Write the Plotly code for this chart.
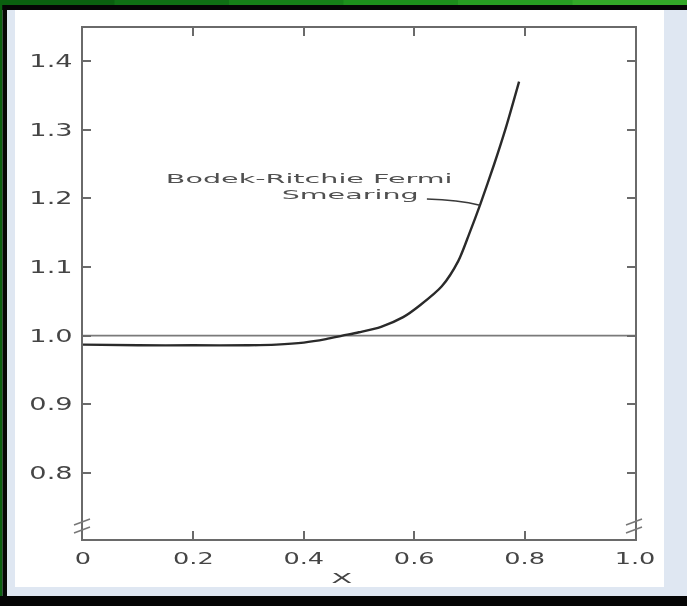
import plotly.graph_objects as go

# Ratio curve read across x
x_vals = [0.0, 0.1, 0.2, 0.3, 0.35, 0.4, 0.44, 0.47, 0.5, 0.54, 0.58, 0.61,
          0.65, 0.68, 0.70, 0.72, 0.745, 0.765, 0.79]
ratio_vals = [0.987, 0.986, 0.986, 0.986, 0.987, 0.990, 0.995, 1.000, 1.005,
              1.013, 1.027, 1.044, 1.072, 1.109, 1.149, 1.192, 1.250, 1.300, 1.370]

# Unit reference line
ref_x = [0.0, 1.0]
ref_y = [1.0, 1.0]

x_ticks = [0.0, 0.2, 0.4, 0.6, 0.8, 1.0]
x_tick_text = ["0", "0.2", "0.4", "0.6", "0.8", "1.0"]
y_ticks = [0.8, 0.9, 1.0, 1.1, 1.2, 1.3, 1.4]
y_tick_text = ["0.8", "0.9", "1.0", "1.1", "1.2", "1.3", "1.4"]

label_line1 = "Bodek-Ritchie Fermi"
label_line2 = "Smearing"
x_title = "X"

W, H = 687, 606
L, R, T, B = 83, 52, 28, 67
PW, PH = W - L - R, H - T - B


def px(xp):
    return (xp - L) / PW


def py(yp):
    return (H - B - yp) / PH


AX = "#6a6a6a"
TXT = "#454545"
FONT = "DejaVu Sans"

fig = go.Figure()
fig.add_trace(go.Scatter(x=ref_x, y=ref_y, mode="lines",
                         line=dict(color="#7a7a7a", width=1.8),
                         hoverinfo="skip", showlegend=False))
fig.add_trace(go.Scatter(x=x_vals, y=ratio_vals, mode="lines",
                         line=dict(color="#2a2a2a", width=2.4, shape="spline",
                                   smoothing=0.8),
                         showlegend=False))

shapes = []
# page frame: light panel, white card, dark edges
shapes.append(dict(type="rect", xref="paper", yref="paper",
                   x0=px(15), x1=px(664), y0=py(587), y1=py(10),
                   fillcolor="white", line=dict(width=0), layer="below"))
greens = ["#0a600f", "#0f7014", "#168018", "#1d8f1c", "#279c22", "#33a828"]
seg = W / len(greens)
for i, g in enumerate(greens):
    shapes.append(dict(type="rect", xref="paper", yref="paper",
                       x0=px(i * seg), x1=px((i + 1) * seg + 1),
                       y0=py(5), y1=py(0), fillcolor=g, line=dict(width=0)))
shapes.append(dict(type="rect", xref="paper", yref="paper",
                   x0=px(0), x1=px(W), y0=py(10), y1=py(5),
                   fillcolor="#050505", line=dict(width=0)))
shapes.append(dict(type="rect", xref="paper", yref="paper",
                   x0=px(0), x1=px(2.5), y0=py(H), y1=py(5),
                   fillcolor="#0a600f", line=dict(width=0)))
shapes.append(dict(type="rect", xref="paper", yref="paper",
                   x0=px(2.5), x1=px(7), y0=py(H), y1=py(5),
                   fillcolor="#050505", line=dict(width=0)))
shapes.append(dict(type="rect", xref="paper", yref="paper",
                   x0=px(0), x1=px(W), y0=py(H), y1=py(596),
                   fillcolor="#050505", line=dict(width=0)))

# axis-break ticks near the bottom corners
for cx in (82, 634):
    for cy in (522, 530):
        shapes.append(dict(type="line", xref="paper", yref="paper",
                           x0=px(cx - 8), y0=py(cy + 3),
                           x1=px(cx + 8), y1=py(cy - 3),
                           line=dict(color="#777777", width=1.6)))

# leader from the label to the curve
shapes.append(dict(type="path", xref="x", yref="y",
                   path="M 0.623,1.199 Q 0.68,1.198 0.719,1.190",
                   line=dict(color="#3a3a3a", width=1.6)))

annotations = [
    dict(text=label_line1, x=px(309), y=py(178), xref="paper", yref="paper",
         showarrow=False, xanchor="center", yanchor="middle",
         font=dict(family=FONT, size=13, color="#505050")),
    dict(text=label_line2, x=px(350), y=py(194), xref="paper", yref="paper",
         showarrow=False, xanchor="center", yanchor="middle",
         font=dict(family=FONT, size=13, color="#505050")),
    dict(text=x_title, x=px(342), y=py(578), xref="paper", yref="paper",
         showarrow=False, xanchor="center", yanchor="middle",
         font=dict(family=FONT, size=14, color=TXT)),
]

fig.update_layout(
    width=W, height=H,
    margin=dict(l=L, r=R, t=T, b=B, pad=0),
    paper_bgcolor="#dfe7f2",
    plot_bgcolor="white",
    shapes=shapes,
    annotations=annotations,
    font=dict(family=FONT, color=TXT),
)
fig.update_xaxes(range=[0, 1], tickvals=x_ticks, ticktext=x_tick_text,
                 showgrid=False, zeroline=False, showline=True, linecolor=AX,
                 linewidth=2, mirror="allticks", ticks="inside", ticklen=8,
                 tickwidth=1.6, tickcolor=AX, ticklabelstandoff=4,
                 tickfont=dict(family=FONT, size=16, color=TXT))
fig.update_yaxes(range=[0.704, 1.448], tickvals=y_ticks, ticktext=y_tick_text,
                 showgrid=False, zeroline=False, showline=True, linecolor=AX,
                 linewidth=2, mirror="allticks", ticks="inside", ticklen=8,
                 tickwidth=1.6, tickcolor=AX, ticklabelstandoff=5,
                 tickfont=dict(family=FONT, size=17, color=TXT))

# widen the lettering horizontally, keeping each label's anchor point fixed,
# and soften the whole drawing slightly like a scanned print
post = """
var gd = document.getElementById('{plot_id}');
function stretch(sel, s) {
  gd.querySelectorAll(sel).forEach(function (t) {
    var cx = parseFloat(t.getAttribute('x')) || 0;
    var old = t.getAttribute('transform') || '';
    t.setAttribute('transform', old + ' translate(' + cx + ',0) scale(' + s +
                   ',1) translate(' + (-cx) + ',0)');
  });
}
stretch('.xtick text', 1.6);
stretch('.ytick text', 1.6);
stretch('.annotation-text', 2.2);
gd.querySelectorAll('.main-svg').forEach(function (s) {
  s.style.filter = 'blur(0.45px)';
});
"""

fig.write_html("out.html", post_script=post)
